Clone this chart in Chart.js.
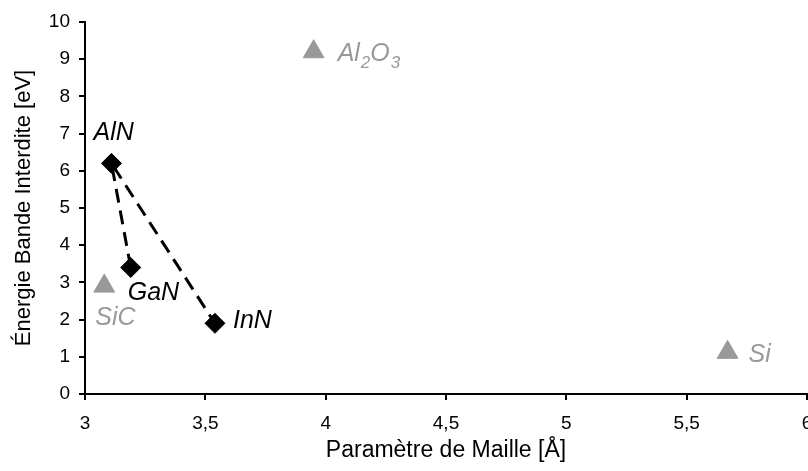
<!DOCTYPE html>
<html lang="fr">
<head>
    <meta charset="UTF-8">
    <title>Énergie Bande Interdite vs Paramètre de Maille</title>
    <style>
        body {
            margin: 0;
            background: #fff;
        }
        .chart-container {
            width: 808px;
            height: 471px;
        }
    </style>
    <script src="https://cdn.jsdelivr.net/npm/chart.js"></script>
</head>
<body>
    <div class="chart-container">
        <canvas id="gap-chart"></canvas>
    </div>

    <script>
        // Nitrures (losanges noirs)
        const nitrideNames = ['AlN', 'GaN', 'InN'];
        const nitrideLattice = [3.11, 3.19, 3.54];
        const nitrideGap = [6.2, 3.4, 1.9];

        // Substrats (triangles gris)
        const substrateNames = ['SiC', 'Al2O3', 'Si'];
        const substrateLattice = [3.08, 3.95, 5.67];
        const substrateGap = [2.9, 9.2, 1.12];

        // Tirets : GaN -> AlN -> InN
        const linkOrder = [1, 0, 2];

        const xTicks = [3, 3.5, 4, 4.5, 5, 5.5, 6];
        const yTicks = [0, 1, 2, 3, 4, 5, 6, 7, 8, 9, 10];

        const FONT = "'Liberation Sans', Arial, sans-serif";
        const GREY = '#999999';

        const toPoints = (xs, ys) => xs.map((x, i) => ({ x: x, y: ys[i] }));
        const comma = v => String(v).replace('.', ',');

        // label offsets in pixels from each marker [dx, dy]
        const nitrideLabelOffset = [[-18, -23], [-3, 32], [18, 5]];
        const substrateLabelOffset = [[-9, 39], [24, 9], [21, 10]];

        const pointLabels = {
            id: 'pointLabels',
            afterDatasetsDraw(chart) {
                const ctx = chart.ctx;
                const xs = chart.scales.x;
                const ys = chart.scales.y;
                ctx.save();
                ctx.textBaseline = 'alphabetic';
                ctx.textAlign = 'left';

                ctx.fillStyle = '#000';
                ctx.font = `italic 25px ${FONT}`;
                nitrideNames.forEach((name, i) => {
                    const px = xs.getPixelForValue(nitrideLattice[i]) + nitrideLabelOffset[i][0];
                    const py = ys.getPixelForValue(nitrideGap[i]) + nitrideLabelOffset[i][1];
                    ctx.fillText(name, px, py);
                });

                ctx.fillStyle = GREY;
                substrateNames.forEach((name, i) => {
                    let px = xs.getPixelForValue(substrateLattice[i]) + substrateLabelOffset[i][0];
                    const py = ys.getPixelForValue(substrateGap[i]) + substrateLabelOffset[i][1];
                    // chiffres en indice
                    const parts = name.match(/[A-Za-z]+|\d+/g);
                    parts.forEach(part => {
                        const sub = /^\d+$/.test(part);
                        ctx.font = sub ? `italic 17px ${FONT}` : `italic 25px ${FONT}`;
                        ctx.fillText(part, px, sub ? py + 7 : py);
                        px += ctx.measureText(part).width + (sub ? 0 : 1);
                    });
                });
                ctx.restore();
            }
        };

        const chart = new Chart(document.getElementById('gap-chart'), {
            type: 'scatter',
            data: {
                datasets: [
                    {
                        label: 'liaisons',
                        data: linkOrder.map(i => ({ x: nitrideLattice[i], y: nitrideGap[i] })),
                        showLine: true,
                        borderColor: '#000',
                        borderWidth: 3,
                        borderDash: [14, 8],
                        pointRadius: 0,
                        order: 3
                    },
                    {
                        label: 'nitrures',
                        data: toPoints(nitrideLattice, nitrideGap),
                        pointStyle: 'rectRot',
                        pointRadius: 10,
                        backgroundColor: '#000',
                        borderColor: '#000',
                        borderWidth: 1,
                        order: 1
                    },
                    {
                        label: 'substrats',
                        data: toPoints(substrateLattice, substrateGap),
                        pointStyle: 'triangle',
                        pointRadius: 12,
                        backgroundColor: GREY,
                        borderColor: GREY,
                        borderWidth: 1,
                        order: 2
                    }
                ]
            },
            options: {
                responsive: true,
                maintainAspectRatio: false,
                animation: false,
                layout: {
                    autoPadding: false,
                    padding: { top: 22, right: 1, left: 0, bottom: 0 }
                },
                plugins: {
                    legend: { display: false },
                    tooltip: { enabled: false }
                },
                scales: {
                    x: {
                        type: 'linear',
                        min: 3,
                        max: 6,
                        afterBuildTicks: scale => { scale.ticks = xTicks.map(v => ({ value: v })); },
                        afterFit: scale => {
                            scale.height = 77;
                            scale.paddingLeft = 0;
                            scale.paddingRight = 0;
                        },
                        grid: {
                            drawOnChartArea: false,
                            drawTicks: true,
                            tickLength: 6,
                            color: '#000',
                            lineWidth: 2
                        },
                        border: { color: '#000', width: 2 },
                        ticks: {
                            color: '#000',
                            padding: 12,
                            maxRotation: 0,
                            font: { family: FONT, size: 19 },
                            callback: v => comma(v)
                        },
                        title: {
                            display: true,
                            text: 'Paramètre de Maille [Å]',
                            color: '#000',
                            font: { family: FONT, size: 23 },
                            padding: { top: 0, bottom: 7 }
                        }
                    },
                    y: {
                        type: 'linear',
                        min: 0,
                        max: 10,
                        afterBuildTicks: scale => { scale.ticks = yTicks.map(v => ({ value: v })); },
                        afterFit: scale => {
                            scale.width = 85;
                            scale.paddingTop = 0;
                            scale.paddingBottom = 0;
                        },
                        grid: {
                            drawOnChartArea: false,
                            drawTicks: true,
                            tickLength: 6,
                            color: '#000',
                            lineWidth: 2
                        },
                        border: { color: '#000', width: 2 },
                        ticks: {
                            color: '#000',
                            padding: 9,
                            font: { family: FONT, size: 19 },
                            callback: v => comma(v)
                        },
                        title: {
                            display: true,
                            text: 'Énergie Bande Interdite [eV]',
                            color: '#000',
                            font: { family: FONT, size: 22 },
                            padding: { top: 11, bottom: 0 }
                        }
                    }
                }
            },
            plugins: [pointLabels]
        });
    </script>
</body>
</html>
